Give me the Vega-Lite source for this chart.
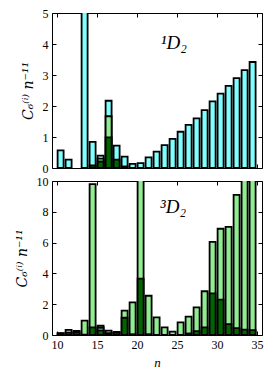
{
  "$schema": "https://vega.github.io/schema/vega-lite/v6.json",
  "autosize": {"type": "pad"},
  "padding": {"left": 14, "top": 6, "right": 16, "bottom": 10},
  "background": "white",
  "spacing": -1,
  "datasets": {
    "top": [
      {"n": 10, "s": "c", "v": 0.57}, {"n": 11, "s": "c", "v": 0.27}, {"n": 13, "s": "c", "v": 5.05},
      {"n": 14, "s": "c", "v": 0.84}, {"n": 15, "s": "c", "v": 0.40}, {"n": 16, "s": "c", "v": 2.17},
      {"n": 17, "s": "c", "v": 0.72}, {"n": 18, "s": "c", "v": 0.37}, {"n": 19, "s": "c", "v": 0.13},
      {"n": 20, "s": "c", "v": 0.16}, {"n": 21, "s": "c", "v": 0.34}, {"n": 22, "s": "c", "v": 0.53},
      {"n": 23, "s": "c", "v": 0.74}, {"n": 24, "s": "c", "v": 0.94}, {"n": 25, "s": "c", "v": 1.17},
      {"n": 26, "s": "c", "v": 1.39}, {"n": 27, "s": "c", "v": 1.60}, {"n": 28, "s": "c", "v": 1.87},
      {"n": 29, "s": "c", "v": 2.15}, {"n": 30, "s": "c", "v": 2.40}, {"n": 31, "s": "c", "v": 2.65},
      {"n": 32, "s": "c", "v": 2.90}, {"n": 33, "s": "c", "v": 3.16}, {"n": 34, "s": "c", "v": 3.42},
      {"n": 15, "s": "lg", "v": 0.30}, {"n": 16, "s": "lg", "v": 1.67},
      {"n": 14, "s": "dg", "v": 0.08}, {"n": 15, "s": "dg", "v": 0.21}, {"n": 16, "s": "dg", "v": 0.99},
      {"n": 17, "s": "dg", "v": 0.27}, {"n": 18, "s": "dg", "v": 0.05}
    ],
    "bottom": [
      {"n": 10, "s": "lg", "v": 0.12}, {"n": 11, "s": "lg", "v": 0.33}, {"n": 12, "s": "lg", "v": 0.26},
      {"n": 13, "s": "lg", "v": 0.93}, {"n": 14, "s": "lg", "v": 9.8}, {"n": 15, "s": "lg", "v": 0.6},
      {"n": 16, "s": "lg", "v": 0.28}, {"n": 17, "s": "lg", "v": 0.2}, {"n": 18, "s": "lg", "v": 1.58},
      {"n": 19, "s": "lg", "v": 2.12}, {"n": 20, "s": "lg", "v": 10.1}, {"n": 21, "s": "lg", "v": 2.55},
      {"n": 22, "s": "lg", "v": 1.15}, {"n": 23, "s": "lg", "v": 0.5}, {"n": 24, "s": "lg", "v": 0.22},
      {"n": 25, "s": "lg", "v": 0.82}, {"n": 26, "s": "lg", "v": 1.19}, {"n": 27, "s": "lg", "v": 1.8},
      {"n": 28, "s": "lg", "v": 2.84}, {"n": 29, "s": "lg", "v": 6.05}, {"n": 30, "s": "lg", "v": 6.9},
      {"n": 31, "s": "lg", "v": 7.02}, {"n": 32, "s": "lg", "v": 9.1}, {"n": 33, "s": "lg", "v": 10.1},
      {"n": 34, "s": "lg", "v": 10.1},
      {"n": 15, "s": "c", "v": 0.47},
      {"n": 10, "s": "dg", "v": 0.1}, {"n": 11, "s": "dg", "v": 0.15}, {"n": 12, "s": "dg", "v": 0.18},
      {"n": 13, "s": "dg", "v": 0.03}, {"n": 14, "s": "dg", "v": 0.5}, {"n": 15, "s": "dg", "v": 0.3},
      {"n": 16, "s": "dg", "v": 0.12}, {"n": 17, "s": "dg", "v": 0.15}, {"n": 18, "s": "dg", "v": 1.12},
      {"n": 19, "s": "dg", "v": 0.05}, {"n": 20, "s": "dg", "v": 3.66}, {"n": 21, "s": "dg", "v": 0.05},
      {"n": 26, "s": "dg", "v": 0.1}, {"n": 27, "s": "dg", "v": 0.25}, {"n": 28, "s": "dg", "v": 0.5},
      {"n": 29, "s": "dg", "v": 2.7}, {"n": 30, "s": "dg", "v": 2.3}, {"n": 31, "s": "dg", "v": 0.71},
      {"n": 32, "s": "dg", "v": 0.45}, {"n": 33, "s": "dg", "v": 0.35}, {"n": 34, "s": "dg", "v": 0.32}
    ]
  },
  "vconcat": [
    {
      "width": 210,
      "height": 155,
      "data": {"name": "top"},
      "layer": [
        {
          "transform": [{"filter": "datum.s == 'c'"}],
          "mark": {"type": "bar", "clip": true, "color": "#80FFFF", "stroke": "black", "strokeWidth": 1.8, "width": 6, "xOffset": 3.6},
          "encoding": {
            "x": {"field": "n", "type": "quantitative", "scale": {"domain": [10, 35], "nice": false, "zero": false},
                  "axis": {"orient": "bottom", "values": [10, 15, 20, 25, 30, 35], "labels": false, "title": null}},
            "y": {"field": "v", "type": "quantitative", "scale": {"domain": [0, 5], "nice": false},
                  "axis": {"orient": "left", "values": [0, 1, 2, 3, 4, 5], "title": "C₆⁽ⁱ⁾ n⁻¹¹", "titleFont": "DejaVu Serif", "titleFontStyle": "italic", "titleFontSize": 14, "titlePadding": 7}}
          }
        },
        {
          "transform": [{"filter": "datum.s == 'lg'"}],
          "mark": {"type": "bar", "clip": true, "color": "#90EE90", "stroke": "black", "strokeWidth": 1.8, "width": 6, "xOffset": 3.6},
          "encoding": {
            "x": {"field": "n", "type": "quantitative", "axis": null},
            "y": {"field": "v", "type": "quantitative", "axis": null}
          }
        },
        {
          "transform": [{"filter": "datum.s == 'dg'"}],
          "mark": {"type": "bar", "clip": true, "color": "#006400", "stroke": "black", "strokeWidth": 1.8, "width": 6, "xOffset": 3.6},
          "encoding": {
            "x": {"field": "n", "type": "quantitative", "axis": null},
            "y": {"field": "v", "type": "quantitative", "axis": null}
          }
        },
        {
          "data": {"values": [{"label": "¹D₂"}]},
          "mark": {"type": "text", "fontSize": 19, "fontStyle": "italic", "font": "Liberation Serif", "color": "black"},
          "encoding": {
            "x": {"datum": 24.6, "type": "quantitative", "axis": null},
            "y": {"datum": 4.03, "type": "quantitative", "axis": null},
            "text": {"field": "label"}
          }
        },
        {
          "mark": {"type": "point", "opacity": 0},
          "encoding": {
            "x": {"field": "n", "type": "quantitative", "axis": {"orient": "top", "values": [10, 15, 20, 25, 30, 35], "labels": false, "title": null}},
            "y": {"field": "v", "type": "quantitative", "axis": {"orient": "right", "values": [0, 1, 2, 3, 4, 5], "labels": false, "title": null}}
          }
        }
      ],
      "resolve": {"axis": {"x": "independent", "y": "independent"}}
    },
    {
      "width": 210,
      "height": 154,
      "data": {"name": "bottom"},
      "layer": [
        {
          "transform": [{"filter": "datum.s == 'lg'"}],
          "mark": {"type": "bar", "clip": true, "color": "#90EE90", "stroke": "black", "strokeWidth": 1.8, "width": 6, "xOffset": 3.6},
          "encoding": {
            "x": {"field": "n", "type": "quantitative", "scale": {"domain": [10, 35], "nice": false, "zero": false},
                  "axis": {"orient": "bottom", "values": [10, 15, 20, 25, 30, 35], "title": "n", "titleFontStyle": "italic", "titleFontSize": 13, "titlePadding": 6}},
            "y": {"field": "v", "type": "quantitative", "scale": {"domain": [0, 10], "nice": false},
                  "axis": {"orient": "left", "values": [0, 2, 4, 6, 8, 10], "title": "C₆⁽ⁱ⁾ n⁻¹¹", "titleFont": "DejaVu Serif", "titleFontStyle": "italic", "titleFontSize": 14, "titlePadding": 7}}
          }
        },
        {
          "transform": [{"filter": "datum.s == 'c'"}],
          "mark": {"type": "bar", "clip": true, "color": "#80FFFF", "stroke": "black", "strokeWidth": 1.8, "width": 6, "xOffset": 3.6},
          "encoding": {
            "x": {"field": "n", "type": "quantitative", "axis": null},
            "y": {"field": "v", "type": "quantitative", "axis": null}
          }
        },
        {
          "transform": [{"filter": "datum.s == 'dg'"}],
          "mark": {"type": "bar", "clip": true, "color": "#006400", "stroke": "black", "strokeWidth": 1.8, "width": 6, "xOffset": 3.6},
          "encoding": {
            "x": {"field": "n", "type": "quantitative", "axis": null},
            "y": {"field": "v", "type": "quantitative", "axis": null}
          }
        },
        {
          "data": {"values": [{"label": "³D₂"}]},
          "mark": {"type": "text", "fontSize": 19, "fontStyle": "italic", "font": "Liberation Serif", "color": "black"},
          "encoding": {
            "x": {"datum": 24.5, "type": "quantitative", "axis": null},
            "y": {"datum": 8.3, "type": "quantitative", "axis": null},
            "text": {"field": "label"}
          }
        },
        {
          "mark": {"type": "point", "opacity": 0},
          "encoding": {
            "x": {"field": "n", "type": "quantitative", "axis": {"orient": "top", "values": [10, 15, 20, 25, 30, 35], "labels": false, "title": null}},
            "y": {"field": "v", "type": "quantitative", "axis": {"orient": "right", "values": [0, 2, 4, 6, 8, 10], "labels": false, "title": null}}
          }
        }
      ],
      "resolve": {"axis": {"x": "independent", "y": "independent"}}
    }
  ],
  "config": {
    "font": "Liberation Serif",
    "view": {"stroke": "black", "strokeWidth": 1},
    "axis": {
      "domain": false, "grid": false, "ticks": true, "tickColor": "black", "tickSize": -4, "tickWidth": 1,
      "labelFont": "Liberation Serif", "labelFontSize": 12, "labelColor": "black", "labelPadding": 8,
      "titleFont": "Liberation Serif", "titleColor": "black", "titleFontWeight": "normal"
    }
  }
}
